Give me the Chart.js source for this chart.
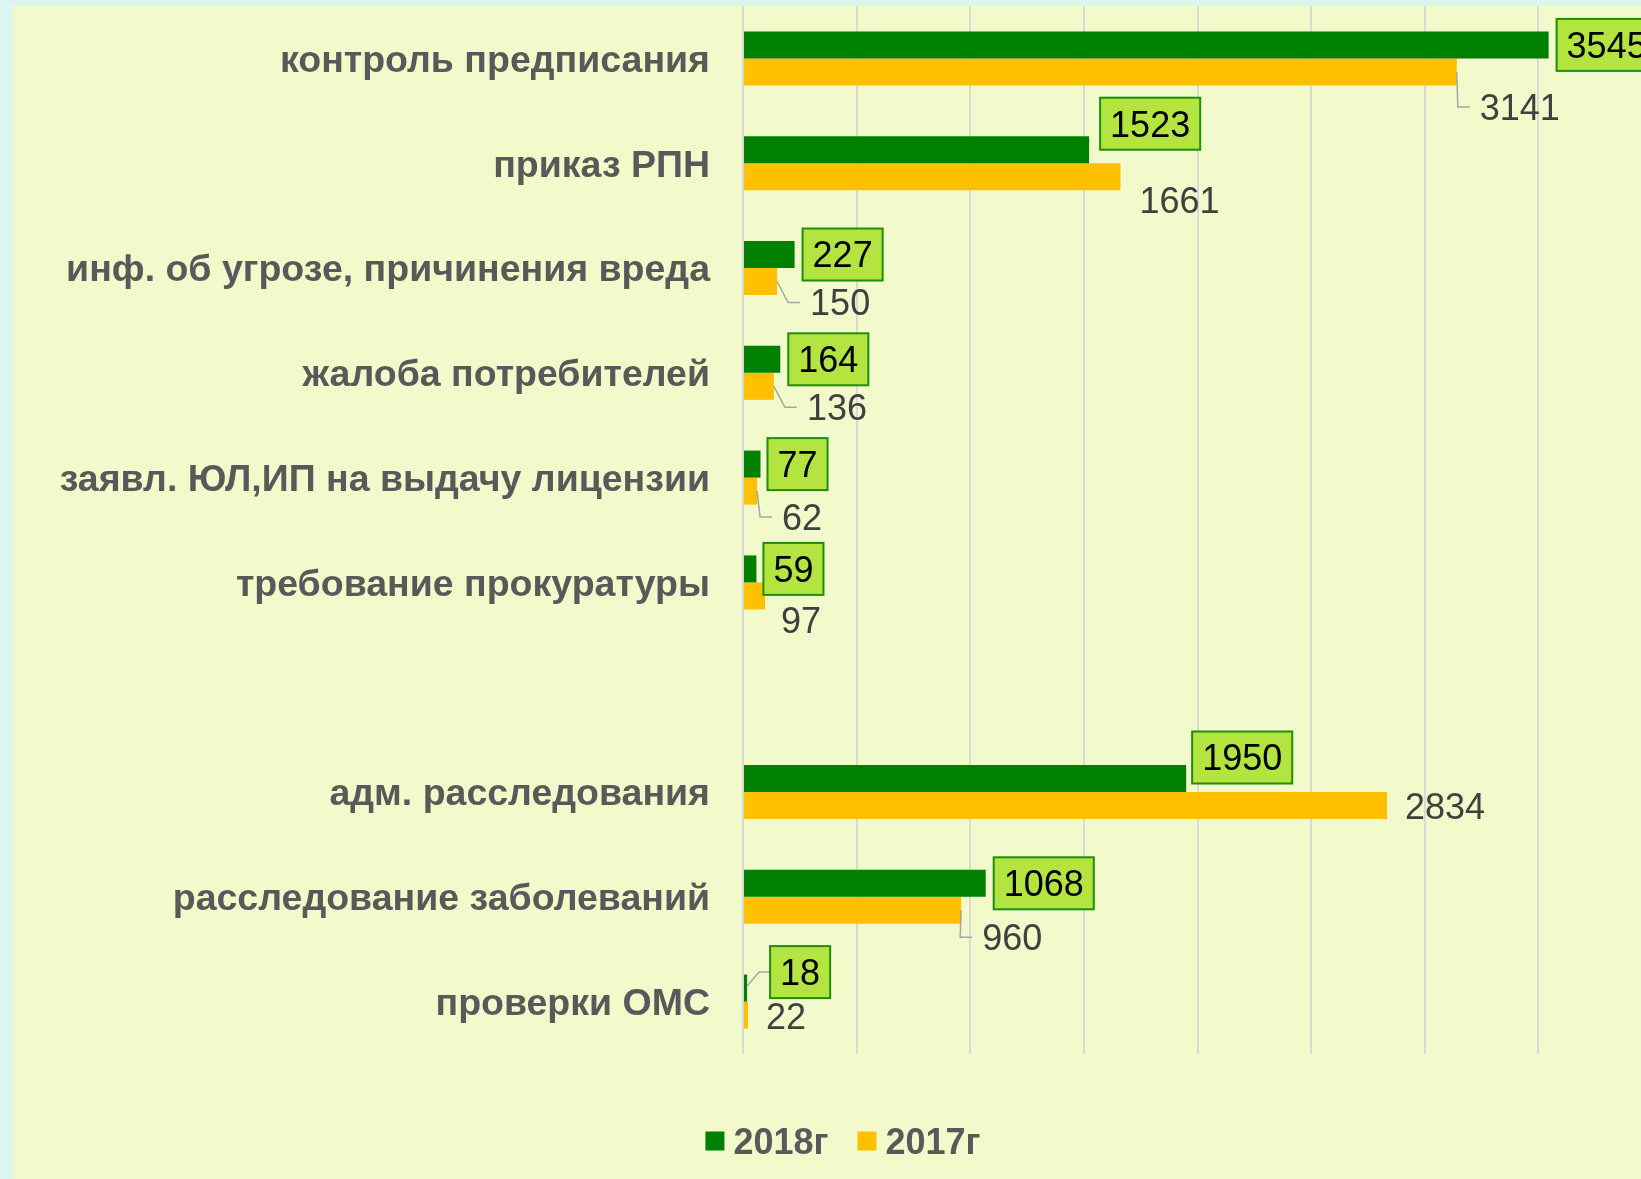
<!DOCTYPE html>
<html>
<head>
<meta charset="utf-8">
<script src="https://cdn.jsdelivr.net/npm/chart.js@4"></script>
<style>
    html, body { margin: 0; padding: 0; width: 1641px; height: 1179px; overflow: hidden; background: #dbf5f2; }
    #panel { position: absolute; left: 12px; top: 6px; width: 1629px; height: 1173px; background: #f2f9ca; overflow: visible; }
    #chart { position: absolute; left: 0; top: 0; }
</style>
</head>
<body>
<div id="panel"><canvas id="chart" width="1662" height="1173"></canvas></div>
<script>
const categories = [
    "контроль предписания",
    "приказ РПН",
    "инф. об угрозе, причинения вреда",
    "жалоба потребителей",
    "заявл. ЮЛ,ИП на выдачу лицензии",
    "требование прокуратуры",
    "",
    "адм. расследования",
    "расследование заболеваний",
    "проверки ОМС"
];
const values2018 = [3545, 1523, 227, 164, 77, 59, null, 1950, 1068, 18];
const values2017 = [3141, 1661, 150, 136, 62, 97, null, 2834, 960, 22];
const seriesNames = ["2018г", "2017г"];
const axisMax = 4000;
const axisStep = 500;

// label placement (as moved by hand in the original), relative to bar end / bar centre
const boxShift2018 = [[8, 0], [11, -26], [8, 0], [8, 0], [7, 0], [7, 0], null, [6, -21], [8, 0], [23, -16]];
const leader2018 = [false, false, false, false, false, false, false, false, false, true];
const textShift2017 = [[23, 35], [19, 23], [33, 21], [33, 21], [25, 26], [16, 24], null, [18, 1], [21, 27], [18, 1]];
const leader2017 = [true, false, true, true, true, false, false, false, true, false];

const green = "#008000";
const yellow = "#ffc000";
const labelFont = "36px 'Liberation Sans', Arial, sans-serif";
const capHalf = 36 * 0.716 / 2;

function drawLeader(c, x0, y0, x1, y1, x2) {
    c.save();
    c.strokeStyle = "#a6a6a6";
    c.lineWidth = 1.5;
    c.beginPath();
    c.moveTo(x0, y0);
    c.lineTo(x1, y1);
    c.lineTo(x2, y1);
    c.stroke();
    c.restore();
}

const valueLabels = {
    id: "valueLabels",
    afterDatasetsDraw(chart) {
        const c = chart.ctx;
        c.save();
        c.font = labelFont;
        c.textBaseline = "alphabetic";
        c.textAlign = "left";

        const meta18 = chart.getDatasetMeta(0);
        meta18.data.forEach((bar, i) => {
            const v = values2018[i];
            if (v === null) return;
            const [dx, dy] = boxShift2018[i];
            const text = String(v);
            const tw = c.measureText(text).width;
            const left = bar.x + dx;
            const cy = bar.y + dy;
            if (leader2018[i]) drawLeader(c, bar.x, bar.y - 2, left - 11, cy, left);
            c.fillStyle = "#b3e43f";
            c.fillRect(left, cy - 26, tw + 20, 52);
            c.strokeStyle = "#1f8f0a";
            c.lineWidth = 2;
            c.strokeRect(left, cy - 26, tw + 20, 52);
            c.fillStyle = "#000000";
            c.fillText(text, left + 10, cy + capHalf);
        });

        const meta17 = chart.getDatasetMeta(1);
        meta17.data.forEach((bar, i) => {
            const v = values2017[i];
            if (v === null) return;
            const [dx, dy] = textShift2017[i];
            const left = bar.x + dx;
            const cy = bar.y + dy;
            if (leader2017[i]) drawLeader(c, bar.x, bar.y, left - 22, cy, left - 10);
            c.fillStyle = "#404040";
            c.fillText(String(v), left, cy + capHalf);
        });
        c.restore();
    }
};

const bottomLegend = {
    id: "bottomLegend",
    afterDraw(chart) {
        const c = chart.ctx;
        const colors = [green, yellow];
        c.save();
        c.font = "bold 36px 'Liberation Sans', Arial, sans-serif";
        c.textBaseline = "alphabetic";
        const sq = 19, gapText = 9, gapItem = 29;
        const widths = seriesNames.map(n => sq + gapText + c.measureText(n).width);
        const total = widths.reduce((a, b) => a + b, 0) + gapItem * (seriesNames.length - 1);
        let x = chart.width / 2 - total / 2;
        const cy = chart.chartArea.bottom + 87;
        seriesNames.forEach((n, i) => {
            c.fillStyle = colors[i];
            c.fillRect(x, cy - sq / 2, sq, sq);
            c.fillStyle = "#595959";
            c.fillText(n, x + sq + gapText, cy + 36 * 0.716 / 2);
            x += widths[i] + gapItem;
        });
        c.restore();
    }
};

const ctx = document.getElementById("chart");
new Chart(ctx, {
    type: "bar",
    data: {
        labels: categories,
        datasets: [{
            label: seriesNames[0],
            data: values2018,
            backgroundColor: green,
            barPercentage: 1,
            categoryPercentage: 0.515
        },
        {
            label: seriesNames[1],
            data: values2017,
            backgroundColor: yellow,
            barPercentage: 1,
            categoryPercentage: 0.515
        }]
    },
    options: {
        indexAxis: "y",
        responsive: false,
        animation: false,
        devicePixelRatio: 1,
        layout: {
            padding: { left: 0, top: 0, right: 22, bottom: 125 }
        },
        scales: {
            x: {
                min: 0,
                max: axisMax,
                ticks: { display: false, stepSize: axisStep },
                grid: { color: "#d9d9d9", lineWidth: 2, drawTicks: false },
                border: { display: false }
            },
            y: {
                grid: { display: false, drawTicks: false },
                border: { display: false },
                ticks: {
                    padding: 33,
                    labelOffset: 3,
                    color: "#595959",
                    font: { family: "'Liberation Sans', Arial, sans-serif", size: 37.5, weight: "bold" }
                },
                afterFit: function(scale) {
                    scale.width = 731;
                    scale.paddingTop = 0;
                    scale.paddingBottom = 0;
                }
            }
        },
        plugins: {
            legend: { display: false },
            tooltip: { enabled: false }
        }
    },
    plugins: [valueLabels, bottomLegend]
});
</script>
</body>
</html>
